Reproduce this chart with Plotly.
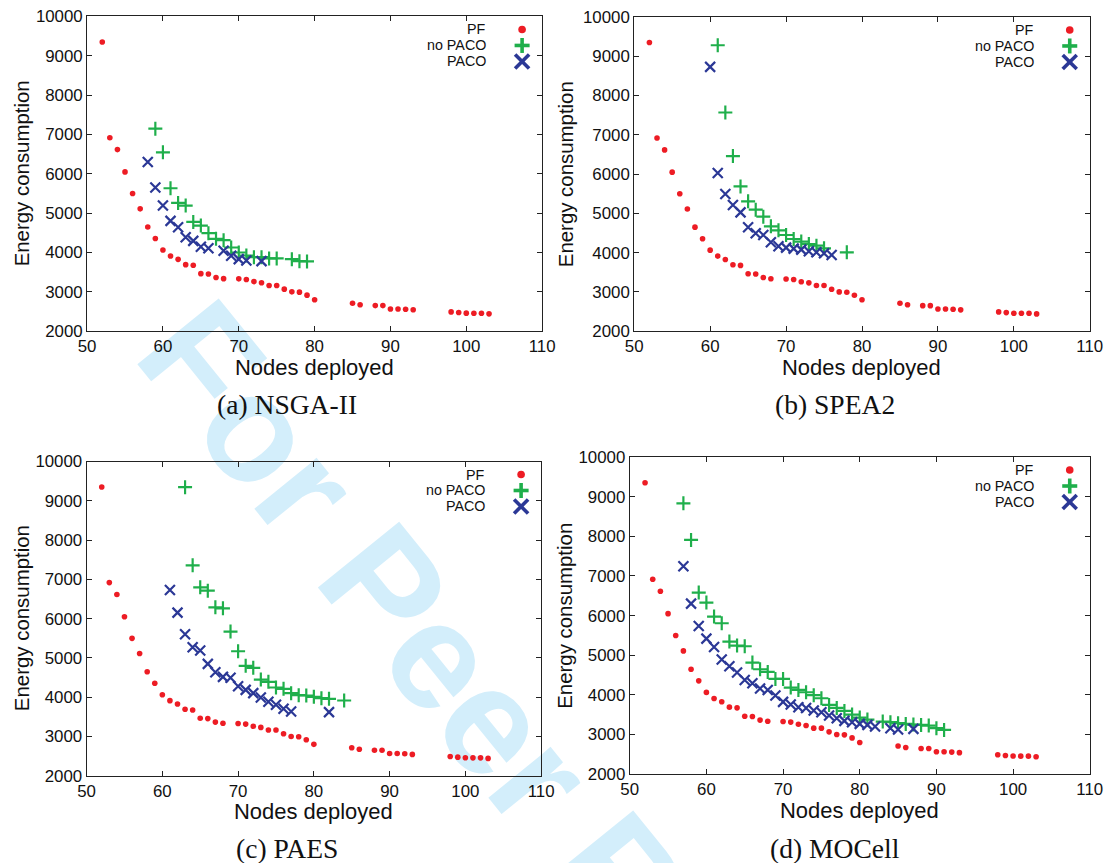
import math
import plotly.graph_objects as go

W, H = 1108, 863
# The photographed page comes out slightly shrunk and offset; positions below are
# given in picture pixels and mapped back to figure pixels.
OFF, SC = 9.5, 0.979

# ---------------- data ----------------
pf_nodes = [52, 53, 54, 55, 56, 57, 58, 59, 60, 61, 62, 63, 64, 65, 66, 67, 68, 70, 71, 72,
            73, 74, 75, 76, 77, 78, 79, 80, 85, 86, 88, 89, 90, 91, 92, 93, 98, 99, 100, 101, 102, 103]
pf_energy = [9350, 6917, 6616, 6049, 5498, 5110, 4648, 4355, 4063, 3911, 3826, 3691, 3674, 3462, 3454,
             3365, 3335, 3330, 3314, 3260, 3230, 3162, 3162, 3068, 3000, 2992, 2916, 2798, 2710, 2672,
             2650, 2650, 2565, 2565, 2558, 2543, 2490, 2473, 2458, 2455, 2455, 2440]

# (a) NSGA-II
nsga_nopaco_nodes = [59, 60, 61, 62, 63, 64, 65, 66, 67, 68, 69, 70, 71, 72, 73, 74, 75, 77, 78, 79]
nsga_nopaco_energy = [7147, 6547, 5633, 5261, 5193, 4778, 4685, 4491, 4347, 4313, 4127, 4000, 3924,
                      3882, 3882, 3848, 3848, 3831, 3780, 3772]
nsga_paco_nodes = [58, 59, 60, 61, 62, 63, 64, 65, 66, 68, 69, 70, 71, 73]
nsga_paco_energy = [6301, 5650, 5193, 4804, 4643, 4389, 4296, 4144, 4110, 4042, 3915, 3831, 3797, 3780]

# (b) SPEA2
spea_nopaco_nodes = [61, 62, 63, 64, 65, 66, 67, 68, 69, 70, 71, 72, 73, 74, 75, 78]
spea_nopaco_energy = [9280, 7568, 6458, 5686, 5305, 5093, 4915, 4669, 4568, 4449, 4347, 4280, 4220,
                      4178, 4110, 4008]
spea_paco_nodes = [60, 61, 62, 63, 64, 65, 66, 67, 68, 69, 70, 71, 72, 73, 74, 75, 76]
spea_paco_energy = [8729, 6025, 5492, 5212, 5025, 4644, 4492, 4449, 4263, 4161, 4127, 4102, 4076,
                    4034, 4008, 3983, 3941]

# (c) PAES
paes_nopaco_nodes = [63, 64, 65, 66, 67, 68, 69, 70, 71, 72, 73, 74, 75, 76, 77, 78, 79, 80, 81, 82, 84]
paes_nopaco_energy = [9347, 7356, 6797, 6712, 6288, 6263, 5669, 5169, 4797, 4746, 4449, 4390, 4246,
                      4212, 4102, 4051, 4042, 4008, 3975, 3958, 3915]
paes_paco_nodes = [61, 62, 63, 64, 65, 66, 67, 68, 69, 70, 71, 72, 73, 74, 75, 76, 77, 82]
paes_paco_energy = [6729, 6153, 5602, 5271, 5186, 4847, 4636, 4517, 4492, 4280, 4186, 4102, 3992,
                    3881, 3805, 3703, 3636, 3619]

# (d) MOCell
mocell_nopaco_nodes = [57, 58, 59, 60, 61, 62, 63, 64, 65, 66, 67, 68, 69, 70, 71, 72, 73, 74, 75,
                       76, 77, 78, 79, 80, 81, 83, 84, 85, 86, 87, 88, 89, 90, 91]
mocell_nopaco_energy = [8832, 7908, 6580, 6328, 5975, 5807, 5345, 5244, 5227, 4815, 4647, 4580, 4403,
                        4403, 4185, 4126, 4067, 3992, 3916, 3748, 3672, 3597, 3504, 3429, 3378, 3328,
                        3311, 3286, 3269, 3252, 3244, 3227, 3160, 3118]
mocell_paco_nodes = [57, 58, 59, 60, 61, 62, 63, 64, 65, 66, 67, 68, 69, 70, 71, 72, 73, 74, 75, 76,
                     77, 78, 79, 80, 81, 82, 84, 85, 87]
mocell_paco_energy = [7244, 6303, 5739, 5420, 5210, 4891, 4723, 4563, 4378, 4294, 4160, 4126, 3983,
                      3824, 3756, 3689, 3672, 3605, 3563, 3479, 3412, 3345, 3311, 3269, 3244, 3202,
                      3160, 3126, 3143]

captions = ["(a) NSGA-II", "(b) SPEA2", "(c) PAES", "(d) MOCell"]
series_names = ["PF", "no PACO", "PACO"]
x_ticks = [50, 60, 70, 80, 90, 100, 110]
y_ticks = [2000, 3000, 4000, 5000, 6000, 7000, 8000, 9000, 10000]
y_ticklabels = [str(v) for v in y_ticks]

panels_data = [
    (nsga_nopaco_nodes, nsga_nopaco_energy, nsga_paco_nodes, nsga_paco_energy),
    (spea_nopaco_nodes, spea_nopaco_energy, spea_paco_nodes, spea_paco_energy),
    (paes_nopaco_nodes, paes_nopaco_energy, paes_paco_nodes, paes_paco_energy),
    (mocell_nopaco_nodes, mocell_nopaco_energy, mocell_paco_nodes, mocell_paco_energy),
]

# ---------------- layout geometry (picture pixels) ----------------
boxes = [(87.5, 542, 17, 332), (634, 1089, 17.5, 332),
         (87, 541, 462.5, 777), (629.5, 1089, 458, 775.5)]
caption_pos = [(287, 405), (835, 405), (287, 850), (835, 850)]
ytitle_x = [22, 566, 22, 564]

RED, GREEN, BLUE = "#ED1C24", "#1FAF4B", "#2B3896"
TXT = "#111111"
SANS = "Liberation Sans, Arial, sans-serif"
SERIF = "Liberation Serif, Times New Roman, serif"


def fx(x):
    return (x - OFF) / SC


def px(x):
    return fx(x) / W


def py(y):
    return 1 - fx(y) / H


def fs(s):
    return s / SC


fig = go.Figure()
annotations = []
shapes = []
layout_axes = {}

for i, (nx, ne, px_, pe) in enumerate(panels_data):
    k = "" if i == 0 else str(i + 1)
    xa, ya = "x" + k, "y" + k
    fig.add_trace(go.Scatter(x=pf_nodes, y=pf_energy, mode="markers", name=series_names[0],
                             xaxis=xa, yaxis=ya, showlegend=False,
                             marker=dict(symbol="circle", size=5.6, color=RED, line=dict(width=0))))
    fig.add_trace(go.Scatter(x=nx, y=ne, mode="markers", name=series_names[1],
                             xaxis=xa, yaxis=ya, showlegend=False,
                             marker=dict(symbol="cross-thin", size=10, color=GREEN,
                                         line=dict(width=2.2, color=GREEN))))
    fig.add_trace(go.Scatter(x=px_, y=pe, mode="markers", name=series_names[2],
                             xaxis=xa, yaxis=ya, showlegend=False,
                             marker=dict(symbol="x-thin", size=10, color=BLUE,
                                         line=dict(width=2.2, color=BLUE))))

    L, R, T, B = boxes[i]
    common = dict(showline=True, linecolor="#222", linewidth=1, mirror="ticks",
                  ticks="inside", ticklen=5, tickcolor="#222", tickwidth=1,
                  showgrid=False, zeroline=False,
                  tickfont=dict(family=SANS, size=fs(16.5), color=TXT))
    layout_axes["xaxis" + k] = dict(common, domain=[px(L), px(R)], range=[50, 110],
                                    tickvals=x_ticks, anchor=ya)
    layout_axes["yaxis" + k] = dict(common, domain=[py(B), py(T)], range=[2000, 10000],
                                    tickvals=y_ticks, ticktext=y_ticklabels, anchor=xa,
                                    ticklabelstandoff=0)

    annotations.append(dict(text="Nodes deployed", x=px((L + R) / 2), y=py(B + 36),
                            xref="paper", yref="paper", showarrow=False,
                            xanchor="center", yanchor="middle",
                            font=dict(family=SANS, size=fs(21.5), color=TXT)))
    annotations.append(dict(text="Energy consumption", x=px(ytitle_x[i]), y=py((T + B) / 2),
                            xref="paper", yref="paper", showarrow=False, textangle=-90,
                            xanchor="center", yanchor="middle",
                            font=dict(family=SANS, size=fs(20), color=TXT)))
    cx, cy = caption_pos[i]
    annotations.append(dict(text=captions[i], x=px(cx), y=py(cy), xref="paper", yref="paper",
                            showarrow=False, xanchor="center", yanchor="middle",
                            font=dict(family=SERIF, size=fs(27), color=TXT)))
    for j, name in enumerate(series_names):
        yy = T + 13 + 16 * j
        annotations.append(dict(text=name, x=px(R - 54), y=py(yy), xref="paper", yref="paper",
                                showarrow=False, xanchor="right", yanchor="middle",
                                font=dict(family=SANS, size=fs(14), color=TXT)))
    # legend keys (drawn to the right of the labels)
    kx = R - 20
    r0 = 3.8
    yy = T + 13
    shapes.append(dict(type="circle", xref="paper", yref="paper",
                       x0=px(kx - r0), x1=px(kx + r0), y0=py(yy + r0), y1=py(yy - r0),
                       fillcolor=RED, line=dict(width=0)))
    a = 7.5
    yy = T + 13 + 16
    shapes.append(dict(type="line", xref="paper", yref="paper", x0=px(kx - a), x1=px(kx + a),
                       y0=py(yy), y1=py(yy), line=dict(color=GREEN, width=3.6)))
    shapes.append(dict(type="line", xref="paper", yref="paper", x0=px(kx), x1=px(kx),
                       y0=py(yy - a), y1=py(yy + a), line=dict(color=GREEN, width=3.6)))
    a = 7
    yy = T + 13 + 32
    shapes.append(dict(type="line", xref="paper", yref="paper", x0=px(kx - a), x1=px(kx + a),
                       y0=py(yy - a), y1=py(yy + a), line=dict(color=BLUE, width=3.6)))
    shapes.append(dict(type="line", xref="paper", yref="paper", x0=px(kx - a), x1=px(kx + a),
                       y0=py(yy + a), y1=py(yy - a), line=dict(color=BLUE, width=3.6)))

# watermark (drawn below everything)
cxw, cyw, d = 555, 775, 300
ang = 51
ux, uy = math.cos(math.radians(ang)), math.sin(math.radians(ang))
shapes.append(dict(type="line", xref="paper", yref="paper", layer="below",
                   x0=px(cxw - d * ux), y0=py(cyw - d * uy), x1=px(cxw + d * ux), y1=py(cyw + d * uy),
                   line=dict(width=0, color="rgba(0,0,0,0)"),
                   label=dict(text="For Peer Review", textposition="middle", yanchor="middle",
                              textangle=ang,
                              font=dict(family=SANS, size=152, color="#D3EEFB", weight="bold"))))

fig.update_layout(width=W, height=H, margin=dict(l=0, r=0, t=0, b=0),
                  paper_bgcolor="white", plot_bgcolor="rgba(0,0,0,0)",
                  showlegend=False, annotations=annotations, shapes=shapes, **layout_axes)

fig.write_html("out.html", config={"displayModeBar": False},
               post_script="document.body.style.margin='0';"
                           "document.documentElement.style.overflow='hidden';"
                           "document.body.style.overflow='hidden';")
